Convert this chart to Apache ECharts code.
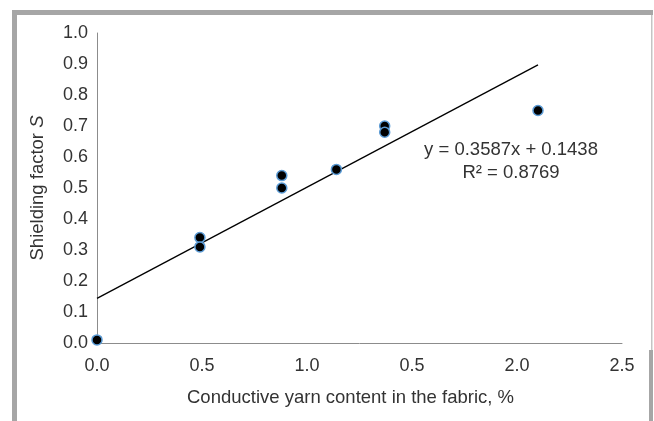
<!DOCTYPE html>
<html>
<head>
<meta charset="utf-8">
<script src="https://cdn.jsdelivr.net/npm/echarts@6/dist/echarts.min.js"></script>
<style>
  html, body { margin: 0; padding: 0; background: #fff; }
  #chart { width: 654px; height: 421px; }
</style>
</head>
<body>
<div id="chart"></div>
<script>
// data
var yarnContent = [0.0, 0.49, 0.49, 0.88, 0.88, 1.14, 1.37, 1.37, 2.10];
var shielding   = [0.01, 0.34, 0.31, 0.54, 0.50, 0.56, 0.70, 0.68, 0.75];
var xTickLabels = ['0.0', '0.5', '1.0', '0.5', '2.0', '2.5'];   // as printed in the original
var slope = 0.3587, intercept = 0.1438;
var eqText = 'y = 0.3587x + 0.1438';
var r2Text = 'R\u00B2 = 0.8769';

var font = '"Liberation Sans", Arial, sans-serif';

var points = [];
for (var i = 0; i < yarnContent.length; i++) {
    points.push([yarnContent[i], shielding[i]]);
}
var xEnd = Math.max.apply(null, yarnContent);
var trend = [[0, intercept], [xEnd, slope * xEnd + intercept]];

var myChart = echarts.init(document.getElementById('chart'));

var option = {
    animation: false,
    backgroundColor: '#fff',
    textStyle: { fontFamily: font },
    grid: { left: 97, top: 33, width: 525, height: 310 },
    xAxis: {
        type: 'value',
        min: 0, max: 2.5, interval: 0.5,
        name: 'Conductive yarn content in the fabric, %',
        nameLocation: 'middle',
        nameGap: 45,
        nameTextStyle: { fontSize: 18.5, color: '#333', fontFamily: font, padding: [0, 18, 0, 0] },
        axisLine: { lineStyle: { color: '#8c8c8c', width: 1 } },
        axisTick: { show: false },
        splitLine: { show: false },
        axisLabel: {
            fontSize: 18, color: '#333', margin: 14, fontFamily: font,
            formatter: function (v) {
                var idx = Math.round(v / 0.5);
                return xTickLabels[idx] || '';
            }
        }
    },
    yAxis: {
        type: 'value',
        min: 0, max: 1, interval: 0.1,
        name: 'Shielding factor {i|S}',
        nameLocation: 'middle',
        nameRotate: 90,
        nameGap: 50,
        nameTextStyle: {
            fontSize: 18.5, color: '#333', fontFamily: font,
            rich: { i: { fontSize: 18.5, fontStyle: 'italic', color: '#333', fontFamily: font } }
        },
        axisLine: { show: true, lineStyle: { color: '#8c8c8c', width: 1 } },
        axisTick: { show: false },
        splitLine: { show: false },
        axisLabel: {
            fontSize: 18, color: '#333', margin: 9, fontFamily: font,
            formatter: function (v) { return v.toFixed(1); }
        }
    },
    series: [
        {
            type: 'line',
            data: trend,
            symbol: 'none',
            silent: true,
            lineStyle: { color: '#000', width: 1.3 },
            z: 1
        },
        {
            type: 'scatter',
            data: points,
            symbolSize: 10,
            itemStyle: { color: '#000', borderColor: '#5b9bd5', borderWidth: 1.5, opacity: 1 },
            z: 2
        }
    ],
    graphic: [
        // figure frame
        { type: 'rect', shape: { x: 12, y: 10, width: 641, height: 5 }, style: { fill: '#a6a6a6' } },
        { type: 'rect', shape: { x: 12, y: 10, width: 5, height: 411 }, style: { fill: '#a6a6a6' } },
        { type: 'rect', shape: { x: 651, y: 15, width: 1.5, height: 335 }, style: { fill: '#c4c4c4' } },
        { type: 'rect', shape: { x: 649, y: 350, width: 4, height: 71 }, style: { fill: '#a6a6a6' } },
        // regression annotation
        {
            type: 'text', x: 511, y: 150,
            style: { text: eqText, fontSize: 18.5, fontFamily: font, fill: '#333', textAlign: 'center', textVerticalAlign: 'middle' }
        },
        {
            type: 'text', x: 511, y: 173,
            style: { text: r2Text, fontSize: 18.5, fontFamily: font, fill: '#333', textAlign: 'center', textVerticalAlign: 'middle' }
        }
    ]
};

myChart.setOption(option);
</script>
</body>
</html>
